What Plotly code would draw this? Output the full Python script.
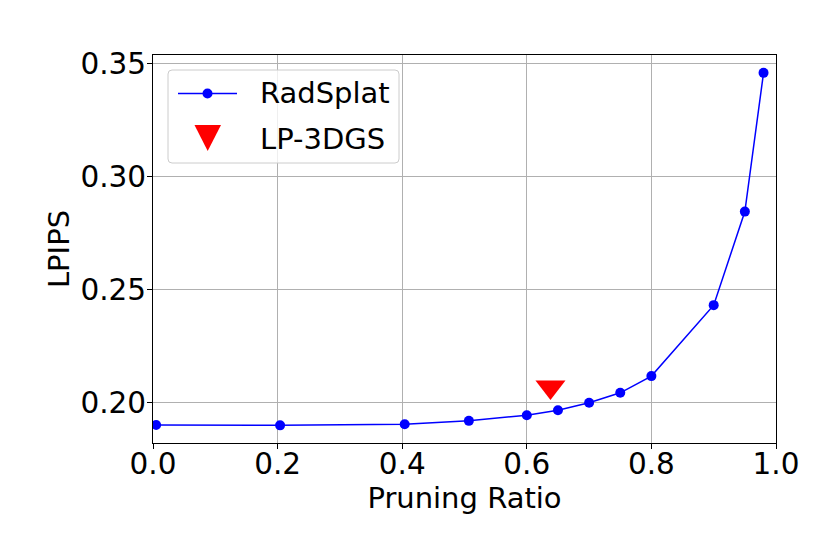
import plotly.graph_objects as go

# Data
radsplat_x = [0.005, 0.204, 0.404, 0.507, 0.6, 0.65, 0.7, 0.75, 0.8, 0.9, 0.95, 0.98]
radsplat_y = [0.1900, 0.1898, 0.1903, 0.1918, 0.1943, 0.1965, 0.1998, 0.2042, 0.2116, 0.2430, 0.2844, 0.3458]
lp3dgs_x = [0.638]
lp3dgs_y = [0.2068]

x_ticks = [0.0, 0.2, 0.4, 0.6, 0.8, 1.0]
x_ticklabels = ["0.0", "0.2", "0.4", "0.6", "0.8", "1.0"]
y_ticks = [0.20, 0.25, 0.30, 0.35]
y_ticklabels = ["0.20", "0.25", "0.30", "0.35"]

FONT = "DejaVu Sans"
BLUE = "#0000ff"
RED = "#ff0000"

# page body has an 8px margin; figure is sized so the plot lands where intended
OFF = 8
W, H = 830 - OFF, 554 - OFF
PL, PT, PR, PB = 153, 55, 776, 443  # plot area in page pixels
ML, MT = PL - OFF, PT - OFF
MR, MB = (OFF + W) - PR, (OFF + H) - PB
PW, PH = PR - PL, PB - PT


def px(xp):
    return (xp - PL) / PW


def py(yp):
    return 1 - (yp - PT) / PH


fig = go.Figure()
fig.add_trace(go.Scatter(
    x=radsplat_x, y=radsplat_y, mode="lines+markers", name="RadSplat",
    line=dict(color=BLUE, width=1.5),
    marker=dict(color=BLUE, size=10, symbol="circle"),
    showlegend=False,
))
fig.add_trace(go.Scatter(
    x=lp3dgs_x, y=lp3dgs_y, mode="markers", name="LP-3DGS",
    marker=dict(color=RED, size=26, symbol="triangle-down"),
    showlegend=False,
))

axis_common = dict(
    showline=True, linecolor="#000000", linewidth=1, mirror=True,
    showgrid=True, gridcolor="#b0b0b0", gridwidth=1,
    ticks="outside", ticklen=5, tickcolor="#000000", tickwidth=1,
    zeroline=False,
    tickfont=dict(family=FONT, size=29.5, color="#000000"),
)

fig.update_xaxes(
    range=[0.0, 1.0], tickvals=x_ticks, ticktext=x_ticklabels,
    ticklabelstandoff=-10,
    title=dict(text="Pruning Ratio", font=dict(family=FONT, size=29, color="#000000"), standoff=0),
    **axis_common,
)
fig.update_yaxes(
    range=[0.1820, 0.3537], tickvals=y_ticks, ticktext=y_ticklabels,
    ticklabelstandoff=-5,
    title=dict(text="LPIPS", font=dict(family=FONT, size=29, color="#000000"), standoff=2),
    **axis_common,
)

# ---- custom legend (matplotlib-style) ----
lx0, lx1, ly0, ly1 = 168, 399, 70, 163
r = 4
rx, ry = r / PW, r / PH
X0, X1, Y0, Y1 = px(lx0), px(lx1), py(ly1), py(ly0)
path = (
    f"M{X0+rx},{Y0} L{X1-rx},{Y0} Q{X1},{Y0} {X1},{Y0+ry} "
    f"L{X1},{Y1-ry} Q{X1},{Y1} {X1-rx},{Y1} "
    f"L{X0+rx},{Y1} Q{X0},{Y1} {X0},{Y1-ry} "
    f"L{X0},{Y0+ry} Q{X0},{Y0} {X0+rx},{Y0} Z"
)
shapes = [
    dict(type="path", xref="paper", yref="paper", path=path,
         fillcolor="rgba(255,255,255,0.8)", line=dict(color="#cccccc", width=1), layer="above"),
    # RadSplat glyph
    dict(type="line", xref="paper", yref="paper", x0=px(178), x1=px(237), y0=py(93.5), y1=py(93.5),
         line=dict(color=BLUE, width=1.5), layer="above"),
    dict(type="circle", xref="paper", yref="paper", x0=px(202.5), x1=px(212.5), y0=py(98.5), y1=py(88.5),
         fillcolor=BLUE, line=dict(color=BLUE, width=0), layer="above"),
    # LP-3DGS glyph
    dict(type="path", xref="paper", yref="paper",
         path=f"M{px(194.5)},{py(125)} L{px(221)},{py(125)} L{px(207.7)},{py(151)} Z",
         fillcolor=RED, line=dict(color=RED, width=0), layer="above"),
]
annotations = [
    dict(text="RadSplat", xref="paper", yref="paper", x=px(258), y=py(93), xanchor="left", yanchor="middle",
         showarrow=False, font=dict(family=FONT, size=29, color="#000000")),
    dict(text="LP-3DGS", xref="paper", yref="paper", x=px(258), y=py(139), xanchor="left", yanchor="middle",
         showarrow=False, font=dict(family=FONT, size=29, color="#000000")),
]

fig.update_layout(
    width=W, height=H,
    margin=dict(l=ML, r=MR, t=MT, b=MB, autoexpand=False),
    paper_bgcolor="#ffffff", plot_bgcolor="#ffffff",
    font=dict(family=FONT, color="#000000"),
    showlegend=False,
    shapes=shapes, annotations=annotations,
)

fig.write_html("out.html")
